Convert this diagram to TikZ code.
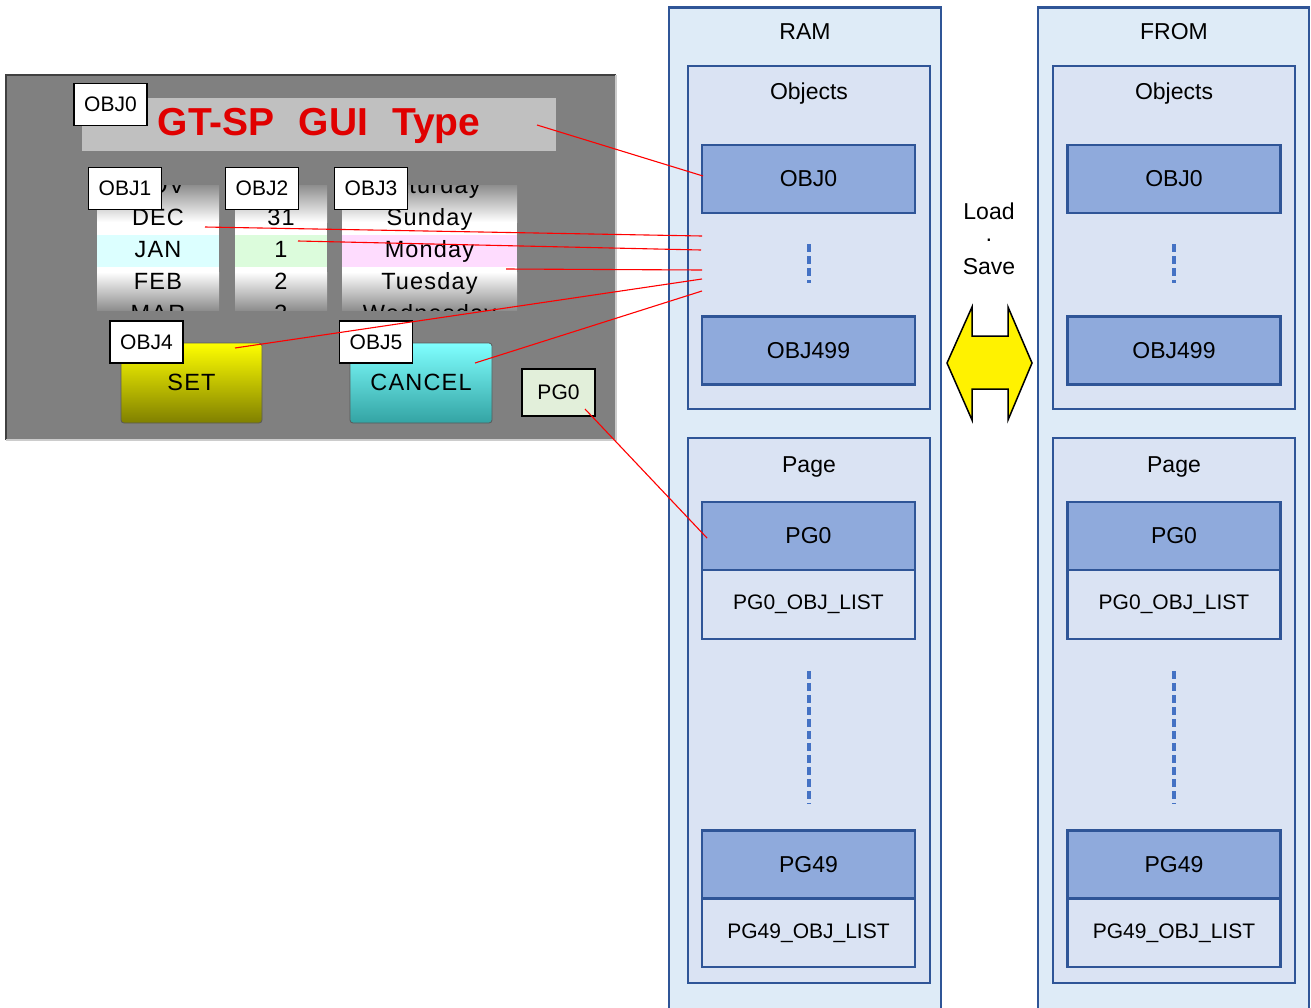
\documentclass[tikz,border=0pt]{standalone}
\usepackage{fontspec}
\setmainfont{Liberation Sans}
\newfontfamily\screenfam[LetterSpace=5]{Liberation Sans}
\usetikzlibrary{calc}

\definecolor{memfill}{HTML}{DEEBF7}
\definecolor{grpfill}{HTML}{DAE3F3}
\definecolor{itemfill}{HTML}{8FAADC}
\definecolor{memline}{HTML}{2F5597}
\definecolor{dashblue}{HTML}{4472C4}
\definecolor{panelgray}{HTML}{808080}
\definecolor{titlegray}{HTML}{C0C0C0}
\definecolor{titlered}{HTML}{E00000}
\definecolor{pickgray}{HTML}{8E8E8E}
\definecolor{hicyan}{HTML}{DCFFFF}
\definecolor{higreen}{HTML}{DCFCDC}
\definecolor{hipink}{HTML}{FEDCFE}
\definecolor{pgtag}{HTML}{E2EFDA}

\newcommand\memfont{\fontsize{23}{27}\selectfont}
\newcommand\listfont{\fontsize{21}{25}\selectfont}
\newcommand\tagfont{\fontsize{21}{25}\selectfont}
\newcommand\pickfont{\screenfam\fontsize{23.5}{28}\selectfont}

\begin{document}
\begin{tikzpicture}[x=1pt,y=-1pt,
  colbox/.style={draw=memline, line width=2.6pt, fill=memfill, inner sep=0pt},
  grpbox/.style={draw=memline, line width=2.6pt, fill=grpfill, inner sep=0pt},
  itembox/.style={draw=memline, line width=2.6pt, fill=itemfill, inner sep=0pt,
    minimum width=213, minimum height=68, font=\memfont},
  listbox/.style={draw=memline, line width=2.6pt, fill=grpfill, inner sep=0pt,
    minimum width=213, minimum height=68, font=\listfont},
  memlabel/.style={font=\memfont, inner sep=0pt, anchor=base},
  dots/.style={dashblue, line width=4pt, dash pattern=on 8pt off 4pt},
  tag/.style={draw=black, line width=1.7pt, fill=white, inner sep=0pt,
    minimum width=73, minimum height=42, font=\tagfont},
  pick/.style={font=\pickfont, inner sep=0pt, anchor=base},
  button/.style={draw=black!65, line width=0.8pt, rounded corners=3pt},
  link/.style={red, line width=1.1pt}]

\useasboundingbox (0,0) rectangle (1311,1007);

% ---------------- GUI screen ----------------
\fill[panelgray] (6,75) rectangle (616,440);
\draw[black!75, line width=1.2pt] (6,440) -- (6,75) -- (616,75);
\draw[black!20, line width=1.2pt] (6,440) -- (616,440) -- (616,75);

% title bar
\fill[titlegray] (82,98) rectangle (556,151);
\node[font=\bfseries\fontsize{39}{42}\selectfont, text=titlered, inner sep=0pt, anchor=base]
  (title) at (319,135) {GT-SP\hspace{24pt}GUI\hspace{24pt}Type};

% picker columns
\begin{scope}
  \clip (97,185) rectangle (219,310);
  \shade[top color=pickgray, bottom color=white] (97,185) rectangle (219,222);
  \fill[white] (97,222) rectangle (219,235);
  \fill[hicyan] (97,235) rectangle (219,267);
  \fill[white] (97,267) rectangle (219,272);
  \shade[top color=white, bottom color=pickgray] (97,272) rectangle (219,310);
  \foreach \t [count=\i] in {NOV,DEC,JAN,FEB,MAR}
    \node[pick] (mon\i) at (158,161+32*\i) {\t};
\end{scope}
\begin{scope}
  \clip (235,185) rectangle (327,310);
  \shade[top color=pickgray, bottom color=white] (235,185) rectangle (327,222);
  \fill[white] (235,222) rectangle (327,235);
  \fill[higreen] (235,235) rectangle (327,267);
  \fill[white] (235,267) rectangle (327,272);
  \shade[top color=white, bottom color=pickgray] (235,272) rectangle (327,310);
  \foreach \t [count=\i] in {30,31,1,2,3}
    \node[pick] (day\i) at (281,161+32*\i) {\t};
\end{scope}
\begin{scope}
  \clip (342,185) rectangle (517,310);
  \shade[top color=pickgray, bottom color=white] (342,185) rectangle (517,222);
  \fill[white] (342,222) rectangle (517,235);
  \fill[hipink] (342,235) rectangle (517,267);
  \fill[white] (342,267) rectangle (517,272);
  \shade[top color=white, bottom color=pickgray] (342,272) rectangle (517,310);
  \foreach \t [count=\i] in {Saturday,Sunday,Monday,Tuesday,Wednesday}
    \node[pick] (wday\i) at (429.5,161+32*\i) {\t};
\end{scope}

% buttons
\shade[button, top color=yellow, bottom color=yellow!50!black] (121,343) rectangle (262,423);
\node[pick] (setbtn) at (191.5,390) {SET};
\shade[button, top color=cyan!50!white, bottom color=cyan!55!black!80!white] (350,343) rectangle (492,423);
\node[pick] (cancelbtn) at (421,390) {CANCEL};

% object tags
\node[tag] (tag0) at (110.5,104.5) {OBJ0};
\node[tag] (tag1) at (125,188.5) {OBJ1};
\node[tag] (tag2) at (262,188.5) {OBJ2};
\node[tag] (tag3) at (371,188.5) {OBJ3};
\node[tag] (tag4) at (146.5,342) {OBJ4};
\node[tag] (tag5) at (376,342) {OBJ5};
\node[tag, fill=pgtag, minimum height=47] (tagpg) at (558.5,392.5) {PG0};

% ---------------- RAM ----------------
\node[colbox, minimum width=272, minimum height=1030, anchor=north] (ram) at (805,6) {};
\node[memlabel] (ramtitle) at (805,39) {RAM};
\node[grpbox, minimum width=242, minimum height=343] (ramobjs) at (809,237.5) {};
\node[memlabel] (ramobjslbl) at (809,99) {Objects};
\node[itembox] (ramobj0) at (808.5,179) {OBJ0};
\node[itembox] (ramobj499) at (808.5,350.5) {OBJ499};
\draw[dots] ($(ramobj0.south)+(0,30)$) -- ($(ramobj499.north)+(0,-32)$);

\node[grpbox, minimum width=242, minimum height=545] (rampage) at (809,710.5) {};
\node[memlabel] (rampagelbl) at (809,472) {Page};
\node[itembox] (rampg0) at (808.5,536) {PG0};
\node[listbox, minimum height=69] (rampg0list) at (808.5,604.5) {PG0\_OBJ\_LIST};
\node[itembox] (rampg49) at (808.5,864.5) {PG49};
\node[listbox] (rampg49list) at (808.5,933) {PG49\_OBJ\_LIST};
\draw[dots] ($(rampg0list.south)+(0,31)$) -- ($(rampg49.north)+(0,-25)$);

% ---------------- FROM ----------------
\node[colbox, minimum width=271, minimum height=1030, anchor=north] (from) at (1173.5,6) {};
\node[memlabel] (fromtitle) at (1174,39) {FROM};
\node[grpbox, minimum width=242, minimum height=343] (fromobjs) at (1174,237.5) {};
\node[memlabel] (fromobjslbl) at (1174,99) {Objects};
\node[itembox] (fromobj0) at (1174,179) {OBJ0};
\node[itembox] (fromobj499) at (1174,350.5) {OBJ499};
\draw[dots] ($(fromobj0.south)+(0,30)$) -- ($(fromobj499.north)+(0,-32)$);

\node[grpbox, minimum width=242, minimum height=545] (frompage) at (1174,710.5) {};
\node[memlabel] (frompagelbl) at (1174,472) {Page};
\node[itembox] (frompg0) at (1174,536) {PG0};
\node[listbox, minimum height=69] (frompg0list) at (1174,604.5) {PG0\_OBJ\_LIST};
\node[itembox] (frompg49) at (1174,864.5) {PG49};
\node[listbox] (frompg49list) at (1174,933) {PG49\_OBJ\_LIST};
\draw[dots] ($(frompg0list.south)+(0,31)$) -- ($(frompg49.north)+(0,-25)$);

% ---------------- Load / Save ----------------
\node[memlabel] (loadlbl) at (989,219) {Load};
\node[memlabel] (sep) at (989,246) {·};
\node[memlabel] (savelbl) at (989,274) {Save};
\draw[fill=yellow, draw=black, line width=1.5pt, line join=miter]
  (947,363) -- (972,307) -- (972,336) -- (1008,336) -- (1008,307) -- (1032,363)
  -- (1008,420) -- (1008,389) -- (972,389) -- (972,420) -- cycle;

% ---------------- links from screen objects to RAM ----------------
\coordinate (s0) at (537,125);
\coordinate (s1) at (205,227);
\coordinate (s2) at (298,241);
\coordinate (s3) at (506,269);
\coordinate (s4) at (235,348);
\coordinate (s5) at (475,363);
\coordinate (sp) at (585,409);
\coordinate (e0) at (703,176);
\coordinate (e1) at (702,236);
\coordinate (e2) at (701,250);
\coordinate (e3) at (702,270);
\coordinate (e4) at (702,279);
\coordinate (e5) at (702,291);
\coordinate (ep) at (707,538);
\draw[link] (s0) -- (e0);
\draw[link] (s1) -- (e1);
\draw[link] (s2) -- (e2);
\draw[link] (s3) -- (e3);
\draw[link] (s4) -- (e4);
\draw[link] (s5) -- (e5);
\draw[link] (sp) -- (ep);
\end{tikzpicture}
\end{document}
